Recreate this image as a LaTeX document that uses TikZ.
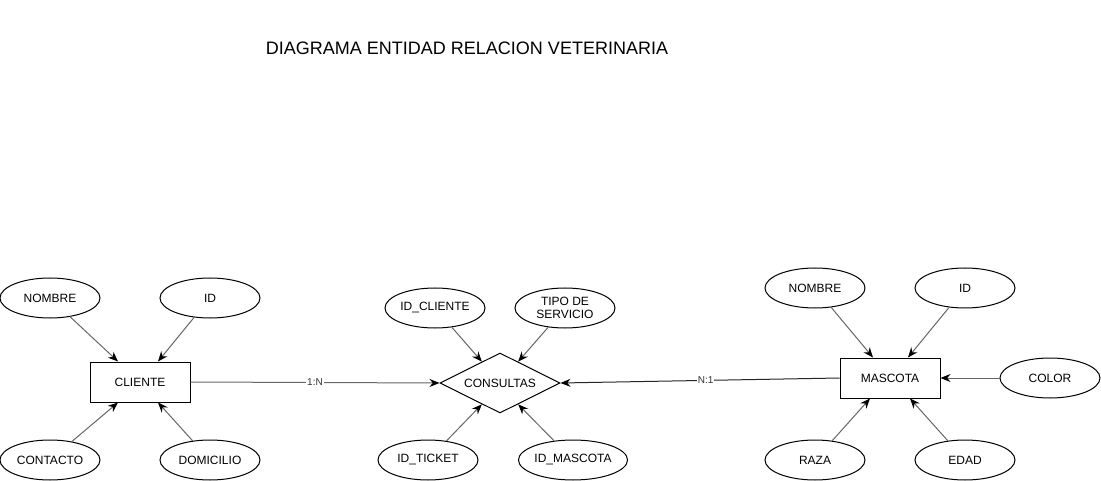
\documentclass[tikz,border=0pt]{standalone}
\usepackage{fontspec}
\setmainfont{Liberation Sans}
\usetikzlibrary{arrows.meta, positioning, calc, shapes.geometric}

\begin{document}
\begin{tikzpicture}[
    x=1pt, y=-1pt,
    >=Stealth,
    font=\fontsize{12}{14}\selectfont,
    ent/.style={draw, line width=1pt, minimum width=100pt, minimum height=40pt, inner sep=0pt},
    rel/.style={draw, diamond, aspect=2, line width=1pt, minimum width=120pt, minimum height=60pt, inner sep=0pt},
    attr/.style={draw, ellipse, line width=1pt, minimum width=100pt, minimum height=40pt, inner sep=0pt, align=center},
    link/.style={line width=1pt, black!60, -{Stealth[black, length=10pt, width=8pt]}},
    card/.style={font=\fontsize{10}{12}\selectfont, fill=white, inner sep=1pt, text=black!80}
]
\useasboundingbox (0,0) rectangle (1101,481);

\node[font=\fontsize{18}{21}\selectfont] (title) at (467,48) {DIAGRAMA ENTIDAD RELACION VETERINARIA};

% cliente
\node[ent] (cliente) at (140,382) {CLIENTE};
\node[attr] (cnombre) at (50,298) {NOMBRE};
\node[attr] (cid) at (210,298) {ID};
\node[attr] (ccontacto) at (50,460) {CONTACTO};
\node[attr] (cdomicilio) at (210,460) {DOMICILIO};

% consultas
\node[rel] (consultas) at (500,383) {CONSULTAS};
\node[attr] (kcliente) at (435,308) {ID\_CLIENTE};
\node[attr, font=\fontsize{12}{13}\selectfont] (kservicio) at (565,308) {TIPO DE\\SERVICIO};
\node[attr] (kticket) at (428,460) {ID\_TICKET};
\node[attr] (kmascota) at (573,460) {ID\_MASCOTA};

% mascota
\node[ent] (mascota) at (890,378) {MASCOTA};
\node[attr] (mnombre) at (815,288) {NOMBRE};
\node[attr] (mid) at (965,288) {ID};
\node[attr] (mcolor) at (1050,378) {COLOR};
\node[attr] (mraza) at (815,460) {RAZA};
\node[attr] (medad) at (965,460) {EDAD};

\draw[link] (cnombre) -- ([xshift=-22pt]cliente.north);
\draw[link] (cid) -- ([xshift=18pt]cliente.north);
\draw[link] (ccontacto) -- ([xshift=-22pt]cliente.south);
\draw[link] (cdomicilio) -- ([xshift=18pt]cliente.south);

\draw[link] (kcliente) -- ($(consultas.north)!0.3!(consultas.west)$);
\draw[link] (kservicio) -- ($(consultas.north)!0.3!(consultas.east)$);
\draw[link] (kticket) -- ($(consultas.south)!0.3!(consultas.west)$);
\draw[link] (kmascota) -- ($(consultas.south)!0.3!(consultas.east)$);

\draw[link] (mnombre) -- ([xshift=-17pt]mascota.north);
\draw[link] (mid) -- ([xshift=18pt]mascota.north);
\draw[link] (mcolor) -- (mascota.east);
\draw[link] (mraza) -- ([xshift=-20pt]mascota.south);
\draw[link] (medad) -- ([xshift=20pt]mascota.south);

\draw[link] (cliente.east) -- node[card, pos=0.5] {1:N} (consultas.west);
\draw[link, black!85] (mascota.west) -- node[card, pos=0.48] {N:1} (consultas.east);

\end{tikzpicture}
\end{document}
